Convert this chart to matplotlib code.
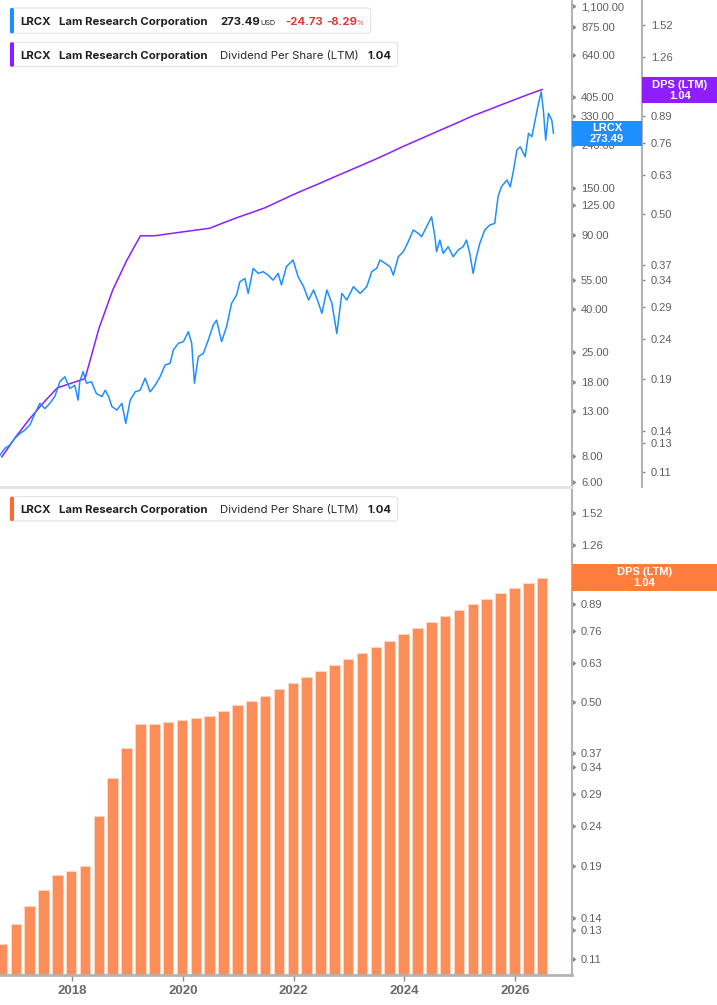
import matplotlib
matplotlib.use("Agg")
import matplotlib.pyplot as plt
import matplotlib.ticker as mticker
import matplotlib.lines as mlines
from matplotlib.patches import FancyBboxPatch, Rectangle
from matplotlib.transforms import IdentityTransform

W, H = 717, 1005

# LRCX share price (USD), x in decimal years
price_year = [
    2016.70, 2016.79, 2016.88, 2016.97, 2017.06, 2017.15, 2017.24, 2017.33, 2017.42, 2017.51,
    2017.60, 2017.69, 2017.78, 2017.87, 2017.96, 2018.05, 2018.11, 2018.14, 2018.20, 2018.26,
    2018.35, 2018.44, 2018.54, 2018.60, 2018.66, 2018.72, 2018.81, 2018.90, 2018.97, 2019.05,
    2019.14, 2019.23, 2019.32, 2019.41, 2019.50, 2019.59, 2019.68, 2019.77, 2019.83, 2019.92,
    2020.01, 2020.10, 2020.16, 2020.21, 2020.28, 2020.37, 2020.46, 2020.55, 2020.61, 2020.70,
    2020.79, 2020.88, 2020.97, 2021.03, 2021.12, 2021.18, 2021.27, 2021.36, 2021.45, 2021.54,
    2021.63, 2021.72, 2021.78, 2021.87, 2021.99, 2022.08, 2022.18, 2022.27, 2022.36, 2022.45,
    2022.51, 2022.60, 2022.69, 2022.78, 2022.87, 2022.96, 2023.08, 2023.20, 2023.32, 2023.41,
    2023.50, 2023.56, 2023.65, 2023.74, 2023.80, 2023.89, 2023.98, 2024.07, 2024.16, 2024.25,
    2024.31, 2024.40, 2024.49, 2024.55, 2024.58, 2024.64, 2024.70, 2024.79, 2024.88, 2024.97,
    2025.06, 2025.12, 2025.18, 2025.24, 2025.30, 2025.36, 2025.45, 2025.54, 2025.63, 2025.69,
    2025.75, 2025.85, 2025.91, 2025.97, 2026.03, 2026.09, 2026.18, 2026.24, 2026.30, 2026.36,
    2026.42, 2026.47, 2026.51, 2026.55, 2026.60, 2026.66, 2026.69,
]
price = [
    8.05, 8.67, 9.0, 9.7, 10.2, 10.6, 11.2, 12.7, 14.2, 13.4,
    14.2, 15.3, 18.0, 19.0, 16.7, 17.3, 14.7, 18.0, 20.1, 17.7,
    18.0, 15.8, 15.3, 16.4, 15.3, 13.7, 13.2, 14.2, 11.4, 14.7,
    16.1, 16.4, 18.7, 16.1, 17.3, 19.0, 21.6, 22.0, 25.5, 27.4,
    27.9, 31.1, 27.4, 17.7, 23.7, 24.5, 28.4, 33.5, 35.3, 27.9,
    32.9, 42.4, 46.5, 53.7, 55.7, 47.3, 62.2, 58.9, 60.0, 57.8,
    54.7, 58.9, 51.9, 63.4, 68.2, 56.8, 50.9, 44.0, 49.1, 42.5,
    38.0, 49.1, 42.5, 30.5, 47.3, 44.0, 50.9, 47.3, 50.9, 60.0,
    62.2, 68.2, 65.8, 63.4, 57.8, 70.7, 74.7, 83.4, 94.7, 91.3,
    88.0, 98.1, 109.4, 88.0, 74.7, 84.9, 73.3, 78.9, 70.7, 76.0,
    78.9, 84.9, 73.3, 58.9, 70.7, 81.8, 94.7, 100.0, 101.8, 136.4,
    152.0, 163.7, 152.0, 182.4, 227.3, 235.6, 211.2, 273.0, 263.0, 315.6,
    379.0, 430.0, 346.0, 253.5, 339.6, 315.6, 273.49,
]

# Dividend per share (LTM), quarterly
dps = [
    0.120, 0.135, 0.150, 0.165, 0.180, 0.185, 0.190, 0.255, 0.320, 0.380,
    0.440, 0.440, 0.445, 0.450, 0.455, 0.460, 0.475, 0.490, 0.504, 0.519,
    0.539, 0.560, 0.580, 0.600, 0.622, 0.644, 0.667, 0.691, 0.717, 0.745,
    0.772, 0.800, 0.829, 0.859, 0.891, 0.919, 0.949, 0.979, 1.010, 1.040,
]
dps_year = [2016.735 + 0.25 * q for q in range(len(dps))]

price_ticks = [6, 8, 13, 18, 25, 40, 55, 90, 125, 150, 240, 330, 405, 640, 875, 1100]
dps_ticks = [0.11, 0.13, 0.14, 0.19, 0.24, 0.29, 0.34, 0.37, 0.50, 0.63, 0.76, 0.89, 1.00, 1.26, 1.52]
year_ticks = [2018, 2020, 2022, 2024, 2026]

BLUE = '#1e8fff'
PURPLE = '#8c1eff'
BAR = '#fd8d59'
ORANGE = '#ff7d3d'
AXIS = '#b3b3b3'
TICKTXT = '#5f5f5f'

plt.rcParams['font.family'] = ['Liberation Sans', 'DejaVu Sans']

fig = plt.figure(figsize=(W / 100, H / 100), dpi=100)
fig.patch.set_facecolor('white')

xlim = (2016.70, 2016.70 + 572 / 55.4)


def style_yaxis(ax, ticks, fmt):
    ax.set_yscale('log')
    ax.yaxis.set_major_locator(mticker.FixedLocator(ticks))
    ax.yaxis.set_minor_locator(mticker.NullLocator())
    ax.yaxis.set_major_formatter(mticker.FuncFormatter(lambda v, p: fmt.format(v)))
    ax.yaxis.tick_right()
    ax.tick_params(axis='y', which='major', length=2.5, width=1, color='#8a8a8a',
                   labelsize=8, labelcolor=TICKTXT, pad=4)
    for t in ax.yaxis.get_major_ticks():
        t.tick2line.set_marker(mlines.CARETRIGHTBASE)
        t.tick2line.set_markersize(3)


# ---- top panel: price + DPS line ----
ax1 = fig.add_axes([0, 1 - 487 / H, 572 / W, 487 / H])
ax1b = ax1.twinx()

ax1b.plot(dps_year, dps, color=PURPLE, lw=1.1)
ax1.plot(price_year, price, color=BLUE, lw=1.1)
ax1.set_zorder(ax1b.get_zorder() + 1)
ax1.patch.set_visible(False)

ax1.set_xlim(*xlim)
ax1.set_ylim(5.68, 1175)
style_yaxis(ax1, price_ticks, '{:,.2f}')
ax1.set_xticks([])
for s in ['top', 'left']:
    ax1.spines[s].set_visible(False)
ax1.spines['right'].set_color(AXIS)
ax1.spines['right'].set_linewidth(1.5)
ax1.spines['bottom'].set_color('#e2e2e2')
ax1.spines['bottom'].set_linewidth(2)

ax1b.set_ylim(0.1005, 1.76)
style_yaxis(ax1b, dps_ticks, '{:.2f}')
ax1b.spines['right'].set_position(('axes', 642 / 572))
for s in ['top', 'left', 'bottom']:
    ax1b.spines[s].set_visible(False)
ax1b.spines['right'].set_color(AXIS)
ax1b.spines['right'].set_linewidth(1.5)

# ---- bottom panel: DPS bars ----
ax2 = fig.add_axes([0, 1 - 975 / H, 572 / W, (975 - 488) / H])
base = 0.05
ax2.bar(dps_year, [d - base for d in dps], width=0.19, bottom=base, color=BAR,
        edgecolor='#ffd6c2', linewidth=0.7)
ax2.set_xlim(*xlim)
ax2.set_ylim(0.1, 1.764)
style_yaxis(ax2, dps_ticks, '{:.2f}')
ax2.set_xticks(year_ticks)
ax2.set_xticklabels([str(y) for y in year_ticks], fontweight='bold', fontsize=9.5, color='#6a6a6a')
ax2.tick_params(axis='x', length=4, width=1, color='#8a8a8a', pad=3)
for s in ['top', 'left']:
    ax2.spines[s].set_visible(False)
ax2.spines['right'].set_color(AXIS)
ax2.spines['right'].set_linewidth(1.5)
ax2.spines['bottom'].set_color(AXIS)
ax2.spines['bottom'].set_linewidth(2)

# ---- helpers in pixel coordinates (y from top) ----
ident = IdentityTransform()


def rect(x0, y0, x1, y1, color):
    fig.add_artist(Rectangle((x0, H - y1), x1 - x0, y1 - y0, transform=ident,
                             facecolor=color, edgecolor='none', zorder=5))


def txt(x, y, s, **kw):
    kw.setdefault('family', ['Inter', 'DejaVu Sans'])
    fig.text(x, H - y, s, transform=ident, zorder=6, **kw)


def legend_box(y0, y1, x1, accent):
    fig.add_artist(FancyBboxPatch((10, H - y1), x1 - 10, y1 - y0, transform=ident,
                                  boxstyle='round,pad=0,rounding_size=3',
                                  facecolor='white', edgecolor='#e4e4e4', lw=0.8, zorder=4))
    fig.add_artist(FancyBboxPatch((10, H - y1), 4, y1 - y0, transform=ident,
                                  boxstyle='round,pad=0,rounding_size=1.5',
                                  facecolor=accent, edgecolor='none', zorder=5))


DARK = '#1f1f1f'
RED = '#e0393b'
FS = 8.2

# legend 1 : price
legend_box(8, 33.3, 370.7, BLUE)
b = 25
txt(20.7, b, 'LRCX', fontsize=FS, fontweight='bold', color=DARK)
txt(59.3, b, 'Lam Research Corporation', fontsize=FS, fontweight='bold', color=DARK)
txt(220, b, '273.49', fontsize=FS, fontweight='bold', color=DARK)
txt(260, b, 'USD', fontsize=5.2, color=DARK)
txt(285, b, '-24.73', fontsize=FS, fontweight='bold', color=RED)
txt(326.7, b, '-8.29', fontsize=FS, fontweight='bold', color=RED)
txt(356.5, b, '%', fontsize=5.2, color=RED)

# legend 2 and 3 : dividend per share
for (y0, y1, acc) in [(42.3, 66.7, PURPLE), (496.7, 521, '#ff6b2b')]:
    legend_box(y0, y1, 397.7, acc)
    b = (y0 + y1) / 2 + 4.2
    txt(20.7, b, 'LRCX', fontsize=FS, fontweight='bold', color=DARK)
    txt(59.3, b, 'Lam Research Corporation', fontsize=FS, fontweight='bold', color=DARK)
    txt(220, b, 'Dividend Per Share (LTM)', fontsize=FS, color='#2a2a2a')
    txt(367.7, b, '1.04', fontsize=FS, fontweight='bold', color=DARK)

# ---- last-value tags on the axes ----
rect(572, 120.7, 642, 146, BLUE)
txt(607, 127.7, 'LRCX', fontsize=8, fontweight='bold', color='white', ha='center', va='center',
    family=['Liberation Sans'])
txt(607, 139.0, '273.49', fontsize=8, fontweight='bold', color='white', ha='center', va='center',
    family=['Liberation Sans'])

rect(642, 77.3, 717, 102.7, PURPLE)
txt(680, 85, 'DPS (LTM)', fontsize=8, fontweight='bold', color='white', ha='center', va='center',
    family=['Liberation Sans'])
txt(680, 95.7, '1.04', fontsize=8, fontweight='bold', color='white', ha='center', va='center',
    family=['Liberation Sans'])

rect(572, 564, 717, 590.7, ORANGE)
txt(644.5, 572.3, 'DPS (LTM)', fontsize=8, fontweight='bold', color='white', ha='center', va='center',
    family=['Liberation Sans'])
txt(644.5, 583.3, '1.04', fontsize=8, fontweight='bold', color='white', ha='center', va='center',
    family=['Liberation Sans'])

fig.savefig('out.png', dpi=100, facecolor='white')
